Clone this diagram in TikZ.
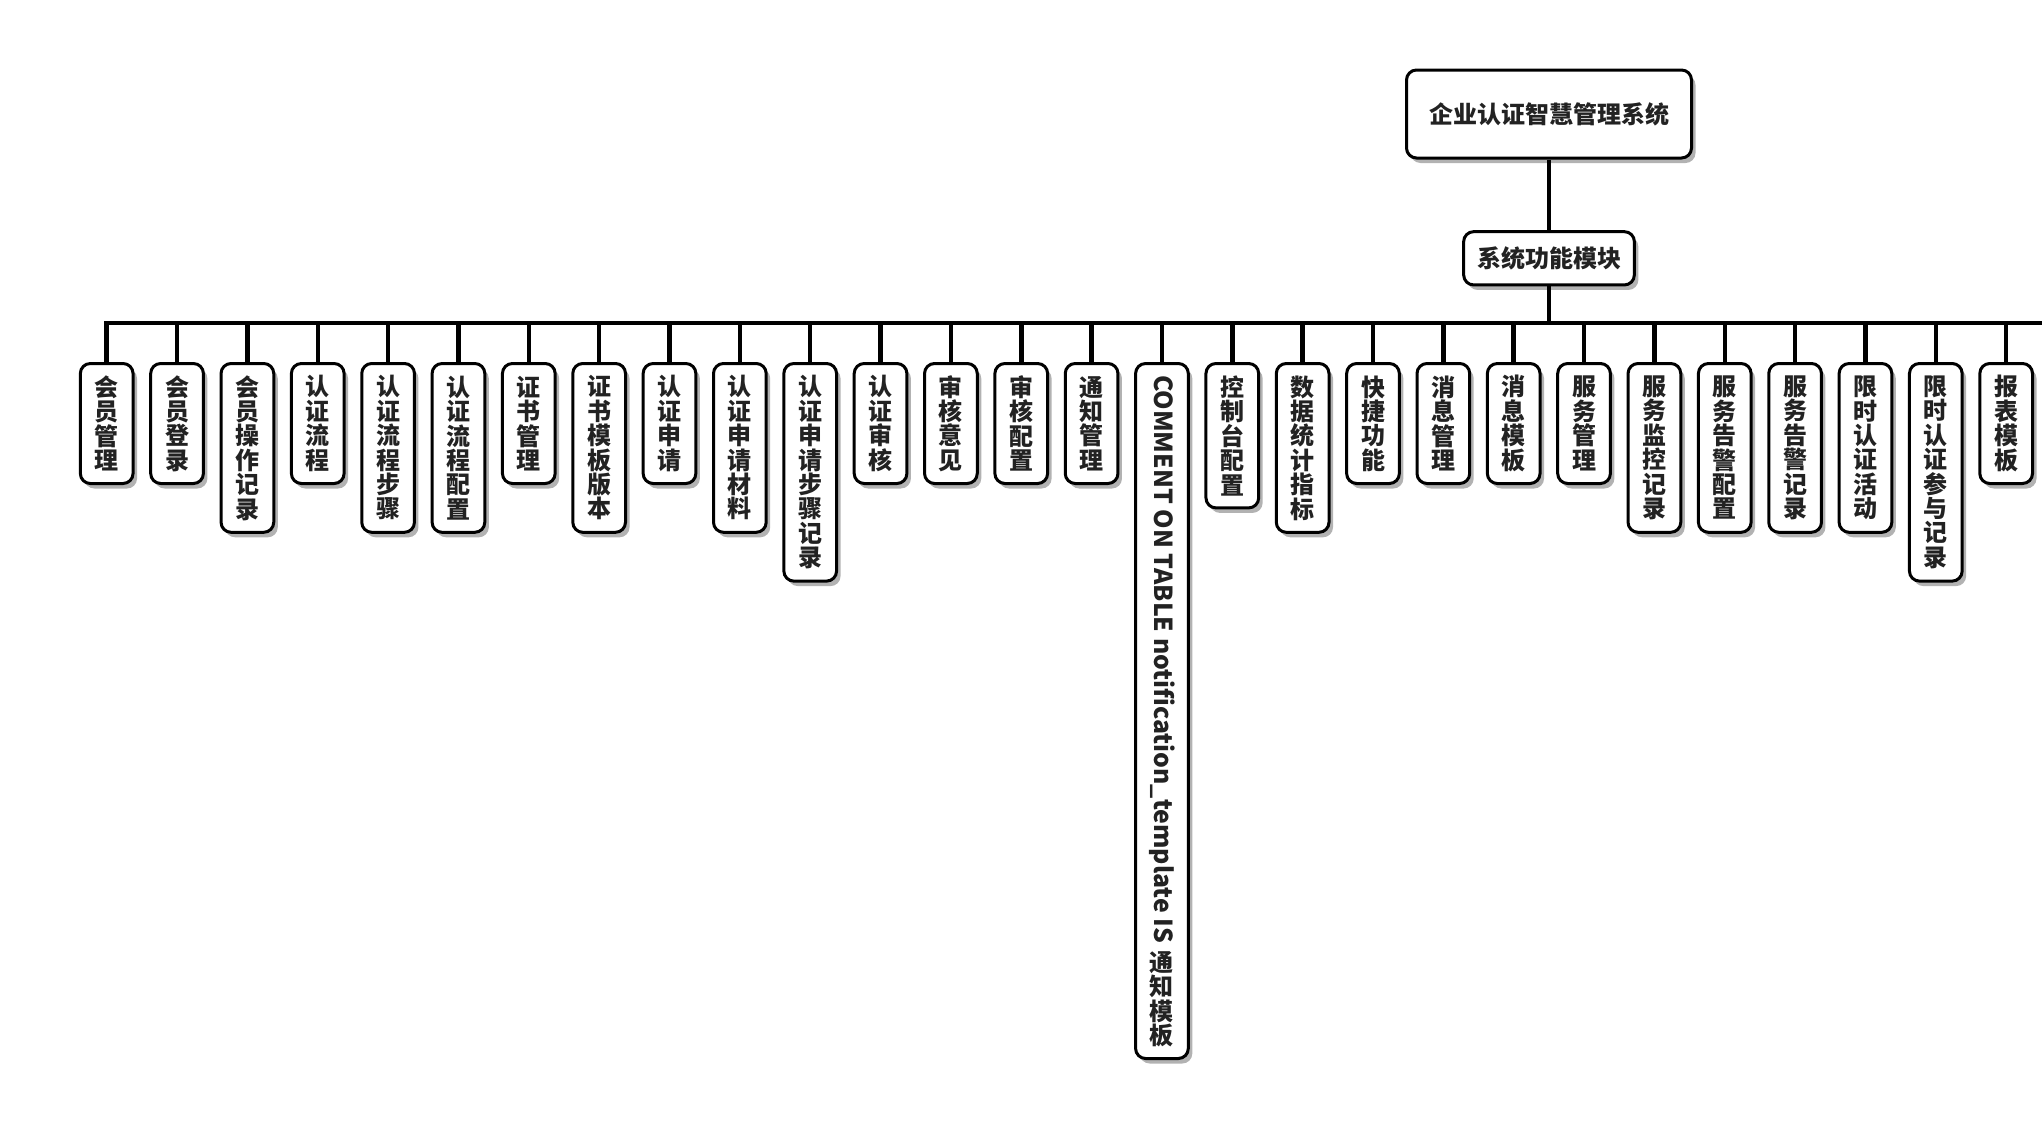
\documentclass[tikz,border=0pt]{standalone}
\usepackage{fontspec}
\setmainfont{Noto Sans CJK SC}
\usetikzlibrary{shadows}
\definecolor{txt}{HTML}{222222}
\begin{document}
\begin{tikzpicture}[x=1pt,y=-1pt,
  box/.style={draw=black, line width=3pt, rounded corners=10pt, fill=white, inner sep=0pt,
    text=txt, font=\bfseries\fontsize{24}{24.4}\selectfont, align=center,
    drop shadow={shadow xshift=4pt, shadow yshift=-5pt, fill=black, opacity=0.3}},
  leaf/.style={box, anchor=north, minimum width=52.7pt},
  conn/.style={line width=4.5pt, line join=miter}]
\useasboundingbox (0,0) rectangle (2042,1136);
\coordinate (busR) at (2042,323);
% root and module
\node[box, minimum width=285, minimum height=88] (root) at (1549,114) {企业认证智慧管理系统};
\node[box, minimum width=170.7, minimum height=53.3] (mod) at (1549,258.3) {系统功能模块};
% leaves
\foreach \i/\n/\t in {
  0/4/{会\\员\\管\\理},
  1/4/{会\\员\\登\\录},
  2/6/{会\\员\\操\\作\\记\\录},
  3/4/{认\\证\\流\\程},
  4/6/{认\\证\\流\\程\\步\\骤},
  5/6/{认\\证\\流\\程\\配\\置},
  6/4/{证\\书\\管\\理},
  7/6/{证\\书\\模\\板\\版\\本},
  8/4/{认\\证\\申\\请},
  9/6/{认\\证\\申\\请\\材\\料},
  10/8/{认\\证\\申\\请\\步\\骤\\记\\录},
  11/4/{认\\证\\审\\核},
  12/4/{审\\核\\意\\见},
  13/4/{审\\核\\配\\置},
  14/4/{通\\知\\管\\理},
  16/5/{控\\制\\台\\配\\置},
  17/6/{数\\据\\统\\计\\指\\标},
  18/4/{快\\捷\\功\\能},
  19/4/{消\\息\\管\\理},
  20/4/{消\\息\\模\\板},
  21/4/{服\\务\\管\\理},
  22/6/{服\\务\\监\\控\\记\\录},
  23/6/{服\\务\\告\\警\\配\\置},
  24/6/{服\\务\\告\\警\\记\\录},
  25/6/{限\\时\\认\\证\\活\\动},
  26/8/{限\\时\\认\\证\\参\\与\\记\\录},
  27/4/{报\\表\\模\\板}} {
  \node[leaf, minimum height={22.4+\n*24.4}] (l\i) at ({106.7+70.35*\i},362) {\t};
}
\node[leaf, minimum height=695] (l15) at ({106.7+70.35*15},362)
  {\rotatebox{-90}{\resizebox{568pt}{!}{COMMENT ON TABLE notification\_template IS}}\\[7pt]通\\知\\模\\板};
% connectors
\draw[conn] (root.south) -- (mod.north);
\draw[conn] (mod.south) -- (mod.south |- busR);
\draw[conn] (l0.north) -- (l0.north |- busR) -- (busR);
\foreach \i in {1,...,27} {
  \draw[conn] (l\i.north) -- (l\i.north |- busR);
}
\end{tikzpicture}
\end{document}
